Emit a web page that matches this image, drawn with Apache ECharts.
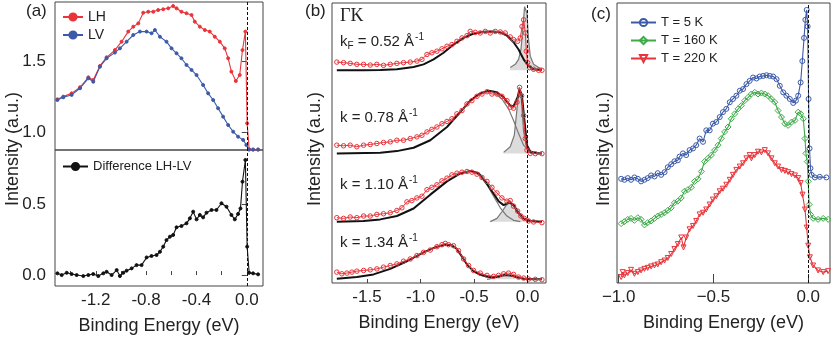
<!DOCTYPE html>
<html>
<head>
<meta charset="utf-8">
<script src="https://cdn.jsdelivr.net/npm/echarts@6.0.0/dist/echarts.min.js"></script>
<style>
html, body { margin: 0; padding: 0; background: #fff; }
#chart { width: 831px; height: 337px; }
</style>
</head>
<body>
<div id="chart"></div>
<script>
// ---- panel (a): LH / LV EDCs and their difference, [binding energy (eV), intensity]
var lhData = [[-1.505,1.230],[-1.458,1.249],[-1.392,1.272],[-1.325,1.315],[-1.259,1.385],[-1.220,1.366],[-1.167,1.465],[-1.114,1.526],[-1.048,1.577],[-0.995,1.636],[-0.942,1.707],[-0.902,1.742],[-0.862,1.765],[-0.823,1.840],[-0.783,1.847],[-0.743,1.847],[-0.704,1.859],[-0.664,1.864],[-0.624,1.871],[-0.585,1.887],[-0.558,1.871],[-0.519,1.847],[-0.479,1.836],[-0.439,1.824],[-0.413,1.777],[-0.373,1.742],[-0.333,1.718],[-0.294,1.707],[-0.254,1.671],[-0.214,1.636],[-0.175,1.589],[-0.148,1.519],[-0.122,1.425],[-0.087,1.359],[-0.056,1.401],[-0.034,1.577],[-0.011,1.707],[0.003,1.061],[0.019,0.878],[0.050,0.876],[0.090,0.876]];
var lvData = [[-1.505,1.225],[-1.458,1.244],[-1.392,1.261],[-1.325,1.308],[-1.259,1.378],[-1.220,1.354],[-1.167,1.460],[-1.114,1.519],[-1.048,1.559],[-1.008,1.589],[-0.955,1.636],[-0.902,1.683],[-0.849,1.707],[-0.796,1.707],[-0.757,1.695],[-0.730,1.718],[-0.690,1.671],[-0.638,1.636],[-0.598,1.589],[-0.558,1.554],[-0.519,1.519],[-0.479,1.472],[-0.439,1.437],[-0.399,1.401],[-0.347,1.331],[-0.307,1.272],[-0.267,1.225],[-0.228,1.167],[-0.188,1.108],[-0.148,1.049],[-0.108,1.002],[-0.069,0.967],[-0.029,0.944],[-0.003,0.908],[0.018,0.876],[0.050,0.876],[0.090,0.876]];
var diffData = [[-1.505,0.012],[-1.471,0.000],[-1.431,0.016],[-1.392,0.007],[-1.352,0.000],[-1.299,-0.007],[-1.259,0.000],[-1.220,0.007],[-1.180,-0.007],[-1.140,0.012],[-1.114,0.023],[-1.074,0.000],[-1.034,0.035],[-1.008,-0.007],[-0.981,0.016],[-0.955,0.031],[-0.915,0.047],[-0.876,0.070],[-0.836,0.070],[-0.796,0.124],[-0.757,0.134],[-0.717,0.141],[-0.690,0.164],[-0.664,0.200],[-0.638,0.246],[-0.611,0.270],[-0.585,0.282],[-0.558,0.336],[-0.519,0.345],[-0.479,0.364],[-0.452,0.399],[-0.426,0.446],[-0.399,0.392],[-0.373,0.423],[-0.347,0.406],[-0.320,0.439],[-0.280,0.458],[-0.241,0.458],[-0.201,0.505],[-0.161,0.481],[-0.122,0.423],[-0.095,0.392],[-0.069,0.430],[-0.050,0.469],[-0.034,0.657],[-0.011,0.810],[0.003,0.200],[0.019,0.016],[0.050,0.012],[0.090,0.005]];

// ---- panel (b): EDCs along Gamma-K, stacked with offsets (a.u.)
var b1Data = [[-1.782,223.3],[-1.719,222.7],[-1.657,222],[-1.595,221],[-1.532,221],[-1.470,220.3],[-1.408,221],[-1.346,220],[-1.283,221],[-1.221,222],[-1.159,222.7],[-1.096,223.3],[-1.034,224.3],[-0.987,226],[-0.940,231],[-0.894,232.7],[-0.847,234.3],[-0.800,236.7],[-0.753,239.3],[-0.707,241],[-0.660,244.3],[-0.613,247.7],[-0.566,250],[-0.536,254.3],[-0.489,253.3],[-0.442,252.7],[-0.395,254.3],[-0.349,252.7],[-0.302,254.3],[-0.255,253.7],[-0.209,252.7],[-0.162,248.7],[-0.131,246],[-0.093,244.3],[-0.068,247.7],[-0.052,259.3],[-0.037,266],[-0.021,252.7],[-0.012,234.3],[0.000,222.7],[0.019,217.7],[0.056,216],[0.103,215],[0.134,215]];
var b1Fit = [[-1.782,215],[-1.532,215],[-1.376,215.3],[-1.221,216],[-1.065,218.3],[-0.972,221],[-0.878,226],[-0.785,232.7],[-0.692,241],[-0.598,247.7],[-0.505,252],[-0.411,254],[-0.318,254.3],[-0.255,253.3],[-0.193,250],[-0.131,243.3],[-0.084,236],[-0.037,226],[0.009,219.3],[0.056,216],[0.134,215]];
var b1Peak = [[-0.162,217.7],[-0.115,221],[-0.084,226],[-0.062,236],[-0.043,259.3],[-0.028,279.3],[-0.019,281],[-0.006,272.7],[0.009,246],[0.025,229.3],[0.056,221],[0.103,217.7],[0.134,216.7]];

var b2Data = [[-1.782,139.3],[-1.719,138.7],[-1.657,139.3],[-1.595,137.7],[-1.532,139.3],[-1.470,140],[-1.408,141],[-1.346,142],[-1.283,142.7],[-1.221,144.3],[-1.159,144.3],[-1.096,146],[-1.034,147.7],[-0.987,149.3],[-0.940,152.7],[-0.894,155.3],[-0.847,157.7],[-0.800,161],[-0.753,163.3],[-0.707,166],[-0.660,171],[-0.613,174.3],[-0.566,181],[-0.520,184.3],[-0.473,188.7],[-0.426,191],[-0.379,193.3],[-0.333,191],[-0.286,191],[-0.240,188.7],[-0.193,184.3],[-0.162,177.7],[-0.131,176.7],[-0.099,182.7],[-0.075,197.7],[-0.056,189.3],[-0.037,169.3],[-0.021,146],[-0.006,134.3],[0.025,131],[0.072,130.7],[0.134,130.7]];
var b2Fit = [[-1.782,131],[-1.376,131.7],[-1.221,133.3],[-1.065,136.7],[-0.909,144.3],[-0.753,157.7],[-0.629,172.7],[-0.536,184.3],[-0.442,191.7],[-0.364,194.3],[-0.286,192.7],[-0.224,187.7],[-0.162,179.3],[-0.131,178.7],[-0.093,187.7],[-0.075,196],[-0.053,189.3],[-0.031,166],[-0.006,139.3],[0.025,132.7],[0.088,131],[0.134,131]];
var b2Broad = [[-0.318,192.7],[-0.240,186],[-0.178,176],[-0.131,164.3],[-0.084,151],[-0.037,139.3],[0.025,132.7],[0.088,131]];
var b2Peak = [[-0.224,132],[-0.162,137.7],[-0.124,149.3],[-0.099,176],[-0.078,197.7],[-0.059,186],[-0.037,152.7],[-0.006,136],[0.056,132],[0.134,131.3]];

var b3Data = [[-1.782,66],[-1.719,65.3],[-1.657,66.7],[-1.595,66],[-1.532,67.7],[-1.470,67.7],[-1.408,69.3],[-1.346,70],[-1.283,71],[-1.221,73.3],[-1.174,76],[-1.127,82],[-1.081,83.3],[-1.034,86],[-0.987,87.7],[-0.940,94.3],[-0.894,96.7],[-0.847,99.3],[-0.800,103.3],[-0.753,106],[-0.707,109.3],[-0.660,111],[-0.613,112],[-0.566,112.7],[-0.520,112],[-0.473,110],[-0.426,106.7],[-0.379,102.7],[-0.333,96.7],[-0.286,91],[-0.240,86],[-0.193,82.7],[-0.162,83.3],[-0.131,77.7],[-0.093,72.7],[-0.062,67.7],[-0.031,65.3],[0.009,62.7],[0.056,61.7],[0.134,61]];
var b3Fit = [[-1.782,62],[-1.532,62.7],[-1.376,64.3],[-1.221,67.7],[-1.065,75.3],[-0.909,89.3],[-0.753,102.7],[-0.629,110.7],[-0.536,113.3],[-0.458,111],[-0.395,102.7],[-0.333,92.7],[-0.271,82.7],[-0.224,78.7],[-0.168,81.7],[-0.131,78.7],[-0.084,71],[-0.037,65.3],[0.025,62.7],[0.134,62]];
var b3Broad = [[-0.442,107.7],[-0.379,99.3],[-0.318,87.7],[-0.255,76],[-0.193,67.7],[-0.131,63.3],[-0.068,62]];
var b3Peak = [[-0.349,62],[-0.286,65.3],[-0.240,72],[-0.199,78.7],[-0.168,81],[-0.131,77.7],[-0.093,71],[-0.053,66],[0.009,62.7],[0.088,62]];

var b4Data = [[-1.782,11],[-1.735,9.3],[-1.688,10],[-1.641,11],[-1.595,12],[-1.532,12.7],[-1.470,13.3],[-1.408,14.3],[-1.346,16],[-1.283,17.7],[-1.221,19.3],[-1.159,22],[-1.096,24.3],[-1.034,27.7],[-0.972,31],[-0.909,33.3],[-0.847,36.7],[-0.800,38.7],[-0.769,40],[-0.738,38.7],[-0.692,37.7],[-0.645,32.7],[-0.598,24.3],[-0.551,17.7],[-0.505,12.7],[-0.442,10],[-0.379,7.7],[-0.318,6.7],[-0.271,7.7],[-0.224,9.3],[-0.178,10],[-0.131,8.7],[-0.084,6],[-0.037,5],[0.009,4],[0.072,3.7],[0.134,3.3]];
var b4Fit = [[-1.782,4.3],[-1.595,6],[-1.439,8.7],[-1.283,14.3],[-1.127,22],[-0.972,31],[-0.847,36.7],[-0.769,38.7],[-0.707,38.3],[-0.660,34.3],[-0.613,26.7],[-0.566,18.7],[-0.505,12],[-0.442,8.3],[-0.364,6],[-0.286,6],[-0.224,8],[-0.162,7.7],[-0.099,6],[-0.037,4.3],[0.056,3.7],[0.134,3.7]];
var b4Peak = [[-0.379,3.7],[-0.302,5.3],[-0.240,7.3],[-0.199,8.3],[-0.156,7.3],[-0.099,5.3],[-0.037,4.3],[0.056,3.7]];

// baselines of the stacked curves in (b)
var bBase = [215, 131, 62, 3.7];
var bLabels = ['0.52', '0.78', '1.10', '1.34'];

// ---- panel (c): temperature dependence, offset EDCs (a.u.)
var t5Data = [[-0.987,105.3],[-0.970,104.3],[-0.952,106],[-0.935,104.3],[-0.917,106.7],[-0.899,105.3],[-0.882,102.7],[-0.864,104.3],[-0.847,106],[-0.829,108.7],[-0.811,107.7],[-0.794,111],[-0.776,109.3],[-0.758,112],[-0.741,117],[-0.723,120],[-0.706,123],[-0.688,124],[-0.679,127.7],[-0.661,131],[-0.644,129.3],[-0.626,134.3],[-0.608,136],[-0.591,139.3],[-0.573,146],[-0.555,142.7],[-0.538,154.3],[-0.520,154.3],[-0.503,161],[-0.485,162.7],[-0.467,167.7],[-0.450,172.7],[-0.432,176],[-0.414,182.7],[-0.397,186],[-0.379,189.3],[-0.361,194.3],[-0.344,196],[-0.326,201],[-0.309,204.3],[-0.291,207.7],[-0.273,206.7],[-0.256,208.7],[-0.238,209.3],[-0.220,210],[-0.203,209.3],[-0.185,208.7],[-0.167,206],[-0.150,199.3],[-0.132,192.7],[-0.115,189.3],[-0.097,186],[-0.079,182],[-0.065,184.3],[-0.053,189.3],[-0.040,202.7],[-0.031,224.3],[-0.022,247.7],[-0.015,266],[-0.008,276],[-0.003,259.3],[0.002,186],[0.007,136],[0.012,116],[0.018,109.3],[0.035,106.7],[0.061,107.3],[0.096,106.7]];
var t160Data = [[-0.987,60],[-0.970,62],[-0.952,64.3],[-0.935,65.3],[-0.917,63.3],[-0.899,66],[-0.882,64.3],[-0.864,58.7],[-0.847,61],[-0.829,62.7],[-0.811,65.3],[-0.794,67.7],[-0.776,69.3],[-0.758,71],[-0.741,73.3],[-0.723,76],[-0.706,81],[-0.688,82.7],[-0.670,86],[-0.653,92.7],[-0.635,94.3],[-0.617,96.7],[-0.600,102.7],[-0.582,105.3],[-0.564,112.7],[-0.547,122.7],[-0.529,126],[-0.511,129.3],[-0.494,134.3],[-0.476,139.3],[-0.459,146],[-0.441,152.7],[-0.423,157.7],[-0.406,166],[-0.388,171],[-0.370,176],[-0.353,179.3],[-0.335,184.3],[-0.317,187.7],[-0.300,191],[-0.282,192.7],[-0.265,191],[-0.247,192],[-0.229,191],[-0.212,189.3],[-0.194,186],[-0.176,182.7],[-0.159,174.3],[-0.141,167.7],[-0.123,161],[-0.106,159.3],[-0.088,162.7],[-0.070,164.3],[-0.053,172.7],[-0.040,171],[-0.026,166],[-0.017,146],[-0.012,131],[-0.005,122.7],[0.000,102.7],[0.005,79.3],[0.012,69.3],[0.026,65.3],[0.052,64.3],[0.079,65.3],[0.105,64.3]];
var t220Data = [[-0.987,6],[-0.979,11],[-0.970,7.7],[-0.952,10],[-0.935,13.3],[-0.917,9.3],[-0.899,11],[-0.882,12.7],[-0.864,14.3],[-0.847,15.3],[-0.829,16.7],[-0.811,17.7],[-0.794,18.7],[-0.776,21],[-0.758,22.7],[-0.741,25.3],[-0.723,29.3],[-0.706,34.3],[-0.688,39.3],[-0.670,46],[-0.658,36],[-0.644,46],[-0.626,54.3],[-0.608,57.7],[-0.591,62.7],[-0.573,69.3],[-0.555,71],[-0.538,74.3],[-0.520,79.3],[-0.503,84.3],[-0.485,87.7],[-0.467,92.7],[-0.450,95.3],[-0.432,99.3],[-0.414,104.3],[-0.397,109.3],[-0.379,114.3],[-0.361,117.7],[-0.344,121],[-0.326,126],[-0.309,129.3],[-0.300,126],[-0.282,129.3],[-0.265,132.7],[-0.247,132],[-0.229,134.3],[-0.212,131],[-0.194,126],[-0.176,121],[-0.159,117.7],[-0.141,114.3],[-0.123,113.3],[-0.106,112],[-0.088,110],[-0.070,108.7],[-0.053,106],[-0.040,101],[-0.030,89.3],[-0.017,74.3],[-0.008,56],[0.000,37.7],[0.009,26],[0.026,17.7],[0.052,12.7],[0.079,11],[0.105,12]];

// tick positions / labels
var aTicks = [-1.4, -1.2, -1.0, -0.8, -0.6, -0.4, -0.2, 0.0];
var aLabels = [-1.2, -0.8, -0.4, 0.0];
var aTopY = [1.0, 1.5];
var aBotY = [0.0, 0.5];
var bTicks = [-1.5, -1.0, -0.5, 0.0];
var cTicks = [-1.0, -0.5, 0.0];

var FONT = '"Liberation Sans", Arial, sans-serif';
var RED = '#e8343a';
var BLUE = '#3c5aa8';
var GREEN = '#3daa48';

var chart = echarts.init(document.getElementById('chart'));

function fmt1(v) { return v.toFixed(1); }
function fmtMinus(v) { return v.toFixed(1).replace('-', '\u2212'); }

function gridBox(left, top, width, height) {
	return { left: left, top: top, width: width, height: height, show: true,
		borderColor: '#444', borderWidth: 1, backgroundColor: 'transparent' };
}

function bottomAxis(gi, min, max, ticks, labels, tickLen, fmt) {
	return {
		type: 'value', gridIndex: gi, min: min, max: max,
		axisLine: { show: false }, splitLine: { show: false },
		axisTick: { show: true, inside: true, length: tickLen, customValues: ticks, lineStyle: { color: '#444' } },
		axisLabel: { show: true, customValues: labels, formatter: fmt, fontSize: 17, color: '#222', fontFamily: FONT, margin: 6 },
		name: 'Binding Energy (eV)', nameLocation: 'middle', nameGap: 31,
		nameTextStyle: { fontSize: 18, color: '#222', fontFamily: FONT }
	};
}

function hiddenAxis(gi, min, max) {
	return { type: 'value', gridIndex: gi, min: min, max: max,
		axisLine: { show: false }, axisTick: { show: false }, axisLabel: { show: false }, splitLine: { show: false } };
}

function leftAxis(gi, min, max, ticks) {
	return {
		type: 'value', gridIndex: gi, min: min, max: max,
		axisLine: { show: false }, splitLine: { show: false },
		axisTick: { show: true, length: 5, customValues: ticks, lineStyle: { color: '#444' } },
		axisLabel: { show: true, customValues: ticks, formatter: fmt1, fontSize: 17, color: '#222', fontFamily: FONT, margin: 9 }
	};
}

var zeroLine = {
	silent: true, symbol: ['none', 'none'], label: { show: false },
	lineStyle: { type: [3, 2], color: '#111', width: 1 },
	data: [{ xAxis: 0 }]
};

// open markers: transparent fill, coloured rim
function dotSeries(name, data, color, xi, symbol, size, open, extra) {
	var s = {
		name: name, type: 'line', xAxisIndex: xi, yAxisIndex: xi, data: data,
		symbol: symbol, symbolSize: size, showSymbol: true,
		lineStyle: { color: color, width: 1.1 },
		itemStyle: { color: open ? 'rgba(255,255,255,0)' : color, borderColor: color, borderWidth: 1 },
		emphasis: { disabled: true }
	};
	for (var k in extra) s[k] = extra[k];
	return s;
}

function plainLine(data, color, width, xi, extra) {
	var s = {
		type: 'line', xAxisIndex: xi, yAxisIndex: xi, data: data, symbol: 'none',
		lineStyle: { color: color, width: width }, emphasis: { disabled: true }, silent: true
	};
	for (var k in extra) s[k] = extra[k];
	return s;
}

var series = [];

// (a)
series.push(dotSeries('LH', lhData, RED, 0, 'circle', 3, false, { markLine: zeroLine }));
series.push(dotSeries('LV', lvData, BLUE, 0, 'circle', 3, false, {}));
series.push(dotSeries('Difference LH-LV', diffData, '#111', 1, 'circle', 3, false, { markLine: zeroLine }));

// (b) components first, then fits, then data
var bPeaks = [b1Peak, b2Peak, b3Peak, b4Peak];
var bBroads = [null, b2Broad, b3Broad, null];
var bFits = [b1Fit, b2Fit, b3Fit, b4Fit];
var bDatas = [b1Data, b2Data, b3Data, b4Data];
for (var i = 0; i < 4; i++) {
	series.push(plainLine(bPeaks[i], '#777', 1.2, 2, {
		areaStyle: { color: '#dcdcdc', opacity: 1, origin: bBase[i] }
	}));
	if (bBroads[i]) series.push(plainLine(bBroads[i], '#777', 1.2, 2, {}));
}
for (var i = 0; i < 4; i++) {
	series.push(plainLine(bFits[i], '#111', 2, 2, {}));
}
for (var i = 0; i < 4; i++) {
	series.push({
		type: 'line', xAxisIndex: 2, yAxisIndex: 2, data: bDatas[i],
		symbol: 'circle', symbolSize: 4.5, showSymbol: true,
		lineStyle: { color: RED, width: 1 },
		itemStyle: { color: 'rgba(255,255,255,0)', borderColor: RED, borderWidth: 1 },
		emphasis: { disabled: true }, silent: true,
		markLine: i === 0 ? zeroLine : undefined
	});
}

// (c)
series.push(dotSeries('T = 5 K', t5Data, BLUE, 3, 'circle', 5, true, { markLine: zeroLine }));
series.push(dotSeries('T = 160 K', t160Data, GREEN, 3, 'diamond', 6, true, {}));
series.push(dotSeries('T = 220 K', t220Data, RED, 3, 'triangle', 5, true, { symbolRotate: 180 }));

function legendCfg(names, left, top, gap, w, fs) {
	return {
		data: names, left: left, top: top, orient: 'vertical', itemGap: gap,
		itemWidth: w, itemHeight: 9, padding: 0, selectedMode: false,
		textStyle: { fontSize: fs, color: '#222', fontFamily: FONT }
	};
}

var graphic = [
	{ type: 'text', left: 26, top: 3, style: { text: '(a)', font: '17px ' + FONT, fill: '#222' } },
	{ type: 'text', left: 305, top: 3, style: { text: '(b)', font: '17px ' + FONT, fill: '#222' } },
	{ type: 'text', left: 591, top: 6, style: { text: '(c)', font: '17px ' + FONT, fill: '#222' } },
	{ type: 'text', left: 340, top: 7, style: { text: '\u0393K', font: '18px "Liberation Serif", "DejaVu Serif", serif', fill: '#222' } }
];
var yNameX = [13, 315, 604];
for (var j = 0; j < yNameX.length; j++) {
	graphic.push({ type: 'text', x: yNameX[j], y: 149, rotation: Math.PI / 2,
		style: { text: 'Intensity (a.u.)', font: '18px ' + FONT, fill: '#222', align: 'center', verticalAlign: 'middle' } });
}
var kTops = [32, 108, 175, 233];
for (var j = 0; j < 4; j++) {
	var txt = (j === 0 ? '{n|k}{sub|F}' : '{n|k}') + '{n| = ' + bLabels[j] + ' \u00c5}{sup|-1}';
	graphic.push({ type: 'text', left: 340, top: kTops[j],
		style: { text: txt, fill: '#222',
			rich: {
				n: { fontSize: 15, fontFamily: FONT, fill: '#222', lineHeight: 20 },
				sub: { fontSize: 10, fontFamily: FONT, fill: '#222', lineHeight: 20, padding: [9, 0, 0, 0] },
				sup: { fontSize: 10, fontFamily: FONT, fill: '#222', lineHeight: 20, padding: [0, 0, 9, 1] }
			} } });
}

chart.setOption({
	animation: false,
	backgroundColor: '#fff',
	textStyle: { fontFamily: FONT },
	grid: [
		gridBox(55, 2, 208, 148),
		gridBox(55, 150, 208, 136),
		gridBox(332, 3, 214, 283),
		gridBox(617, 3, 213, 283)
	],
	xAxis: [
		hiddenAxis(0, -1.524, 0.129),
		bottomAxis(1, -1.524, 0.129, aTicks, aLabels, 4, fmt1),
		bottomAxis(2, -1.827, 0.172, bTicks, bTicks, 4, fmt1),
		bottomAxis(3, -1.009, 0.115, cTicks, cTicks, 9, fmtMinus)
	],
	yAxis: [
		leftAxis(0, 0.873, 1.9155, aTopY),
		leftAxis(1, -0.077, 0.880, aBotY),
		hiddenAxis(2, 0, 283),
		hiddenAxis(3, 0, 283)
	],
	legend: [
		legendCfg(['LH', 'LV'], 62, 10, 4, 20, 14),
		legendCfg(['Difference LH-LV'], 62, 160, 4, 25, 13),
		legendCfg(['T = 5 K', 'T = 160 K', 'T = 220 K'], 630, 16, 5, 25, 13)
	],
	graphic: graphic,
	series: series
});
</script>
</body>
</html>
